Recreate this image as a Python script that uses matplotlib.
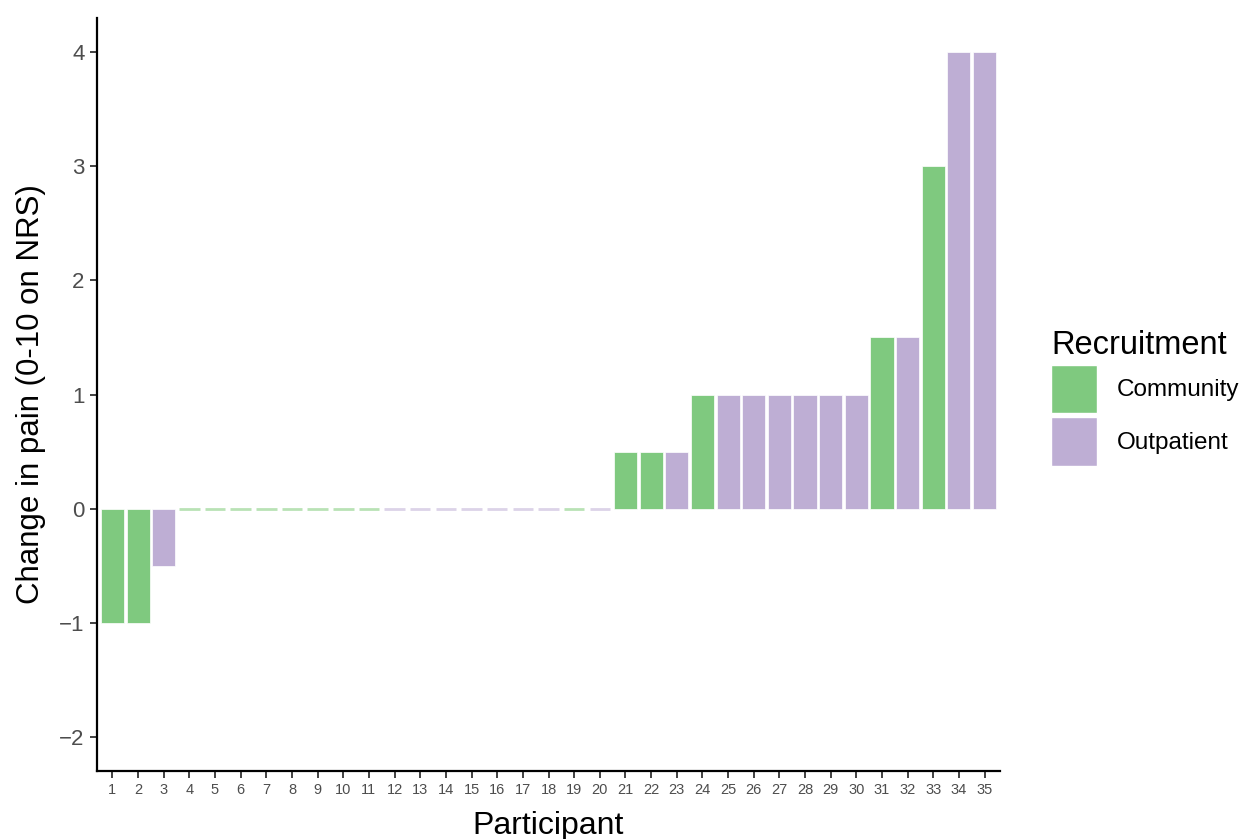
import matplotlib.pyplot as plt
from matplotlib.patches import Patch

plt.rcParams['font.family'] = ['Liberation Sans', 'DejaVu Sans']

participants = list(range(1, 36))
change = [-1, -1, -0.5] + [0] * 17 + [0.5, 0.5, 0.5] + [1] * 7 + [1.5, 1.5, 3, 4, 4]
group = (['Community'] * 2 + ['Outpatient'] + ['Community'] * 8 + ['Outpatient'] * 7
         + ['Community', 'Outpatient', 'Community', 'Community', 'Outpatient', 'Community']
         + ['Outpatient'] * 6
         + ['Community', 'Outpatient', 'Community', 'Outpatient', 'Outpatient'])

colors = {'Community': '#7FC97F', 'Outpatient': '#BEAED4'}
zero_colors = {'Community': '#B9E2B5', 'Outpatient': '#DCD3E8'}

fig = plt.figure(figsize=(12.5, 8.39), dpi=100)
ax = fig.add_axes([0.0776, 0.081, 0.7224, 0.8975])

for p, v, g in zip(participants, change, group):
    if v == 0:
        ax.bar(p, 0, width=0.8, color=zero_colors[g], edgecolor=zero_colors[g], linewidth=2)
    else:
        ax.bar(p, v, width=0.9, color=colors[g], edgecolor='white', linewidth=0.5)

ax.set_xlim(0.4, 35.6)
ax.set_ylim(-2.3, 4.3)
ax.set_xticks(participants)
ax.set_xticklabels([str(p) for p in participants], fontsize=10.5, color='#4d4d4d')
ax.set_yticks([-2, -1, 0, 1, 2, 3, 4])
ax.set_yticklabels(['\u22122', '\u22121', '0', '1', '2', '3', '4'], fontsize=16, color='#4d4d4d')
ax.tick_params(axis='both', length=5, width=1.3, color='#333333')
ax.tick_params(axis='y', pad=4)
for s in ['top', 'right']:
    ax.spines[s].set_visible(False)
for s in ['left', 'bottom']:
    ax.spines[s].set_linewidth(1.6)
ax.set_xlabel('Participant', fontsize=23, labelpad=10)
ax.set_ylabel('Change in pain (0-10 on NRS)', fontsize=22.5, labelpad=9)

handles = [Patch(facecolor=colors[k], edgecolor='white', label=k) for k in ['Community', 'Outpatient']]
leg = fig.legend(handles=handles, title='Recruitment', loc='upper left',
                 bbox_to_anchor=(0.833, 0.618), frameon=False, fontsize=17.5,
                 title_fontsize=23.5, handlelength=1.9, handleheight=2.7,
                 labelspacing=0.15, handletextpad=0.8, borderaxespad=0)
leg._legend_box.align = 'left'

fig.savefig('out.png', dpi=100)
